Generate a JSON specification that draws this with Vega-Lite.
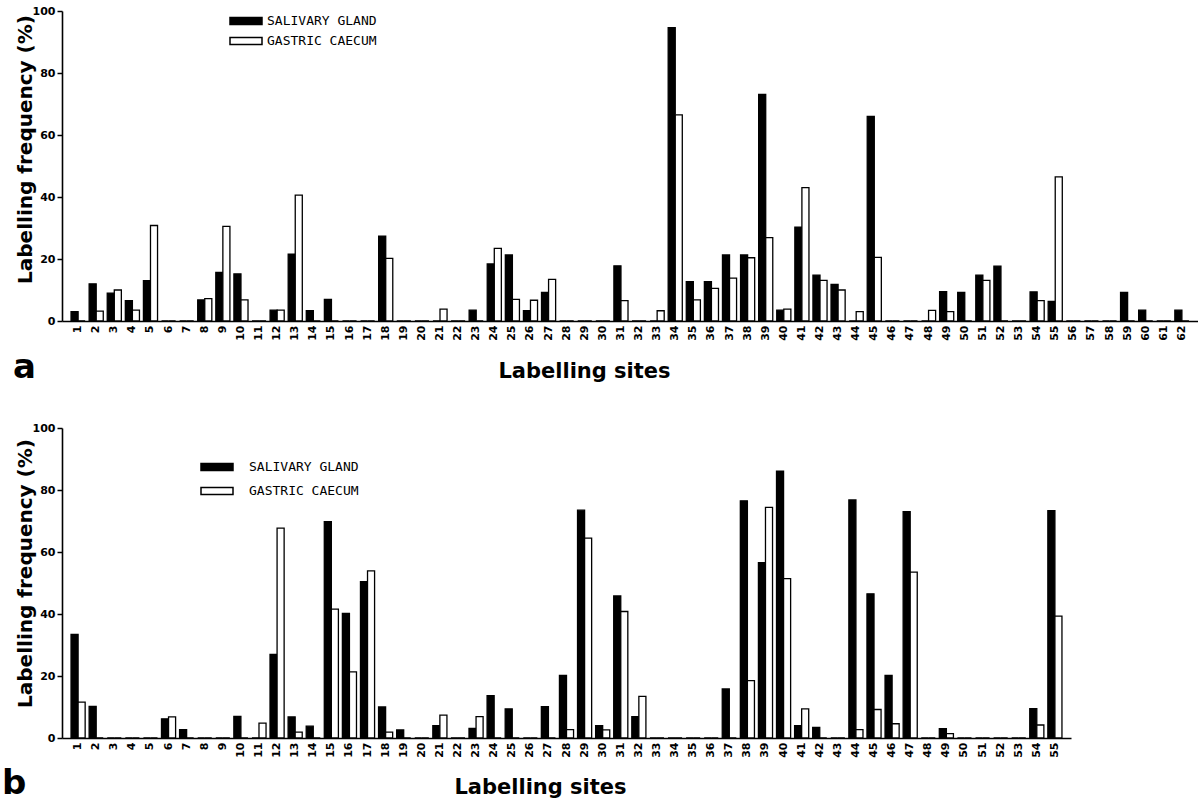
{
  "$schema": "https://vega.github.io/schema/vega-lite/v6.json",
  "autosize": {"type": "pad"},
  "padding": {"left": 2, "top": 5, "right": 0, "bottom": 0},
  "background": "white",
  "spacing": 107,
  "bounds": "flush",
  "config": {
    "view": {"stroke": null},
    "font": "DejaVu Sans",
    "axis": {"domainColor": "black", "domainWidth": 1.6, "tickColor": "black", "tickWidth": 1.5, "labelColor": "black", "titleColor": "black", "grid": false}
  },
  "resolve": {"scale": {"fill": "independent", "x": "independent", "y": "independent", "xOffset": "independent"}, "legend": {"fill": "independent"}},
  "datasets": {
    "a": [
      {"site":1,"tissue":"SALIVARY GLAND","freq":3},{"site":1,"tissue":"GASTRIC CAECUM","freq":0},
      {"site":2,"tissue":"SALIVARY GLAND","freq":12},{"site":2,"tissue":"GASTRIC CAECUM","freq":3.2},
      {"site":3,"tissue":"SALIVARY GLAND","freq":9},{"site":3,"tissue":"GASTRIC CAECUM","freq":10},
      {"site":4,"tissue":"SALIVARY GLAND","freq":6.6},{"site":4,"tissue":"GASTRIC CAECUM","freq":3.5},
      {"site":5,"tissue":"SALIVARY GLAND","freq":13},{"site":5,"tissue":"GASTRIC CAECUM","freq":30.8},
      {"site":6,"tissue":"SALIVARY GLAND","freq":0},{"site":6,"tissue":"GASTRIC CAECUM","freq":0},
      {"site":7,"tissue":"SALIVARY GLAND","freq":0},{"site":7,"tissue":"GASTRIC CAECUM","freq":0},
      {"site":8,"tissue":"SALIVARY GLAND","freq":6.8},{"site":8,"tissue":"GASTRIC CAECUM","freq":7.2},
      {"site":9,"tissue":"SALIVARY GLAND","freq":15.7},{"site":9,"tissue":"GASTRIC CAECUM","freq":30.5},
      {"site":10,"tissue":"SALIVARY GLAND","freq":15.2},{"site":10,"tissue":"GASTRIC CAECUM","freq":6.8},
      {"site":11,"tissue":"SALIVARY GLAND","freq":0},{"site":11,"tissue":"GASTRIC CAECUM","freq":0},
      {"site":12,"tissue":"SALIVARY GLAND","freq":3.5},{"site":12,"tissue":"GASTRIC CAECUM","freq":3.5},
      {"site":13,"tissue":"SALIVARY GLAND","freq":21.6},{"site":13,"tissue":"GASTRIC CAECUM","freq":40.6},
      {"site":14,"tissue":"SALIVARY GLAND","freq":3.3},{"site":14,"tissue":"GASTRIC CAECUM","freq":0},
      {"site":15,"tissue":"SALIVARY GLAND","freq":7},{"site":15,"tissue":"GASTRIC CAECUM","freq":0},
      {"site":16,"tissue":"SALIVARY GLAND","freq":0},{"site":16,"tissue":"GASTRIC CAECUM","freq":0},
      {"site":17,"tissue":"SALIVARY GLAND","freq":0},{"site":17,"tissue":"GASTRIC CAECUM","freq":0},
      {"site":18,"tissue":"SALIVARY GLAND","freq":27.4},{"site":18,"tissue":"GASTRIC CAECUM","freq":20.2},
      {"site":19,"tissue":"SALIVARY GLAND","freq":0},{"site":19,"tissue":"GASTRIC CAECUM","freq":0},
      {"site":20,"tissue":"SALIVARY GLAND","freq":0},{"site":20,"tissue":"GASTRIC CAECUM","freq":0},
      {"site":21,"tissue":"SALIVARY GLAND","freq":0},{"site":21,"tissue":"GASTRIC CAECUM","freq":3.8},
      {"site":22,"tissue":"SALIVARY GLAND","freq":0},{"site":22,"tissue":"GASTRIC CAECUM","freq":0},
      {"site":23,"tissue":"SALIVARY GLAND","freq":3.5},{"site":23,"tissue":"GASTRIC CAECUM","freq":0},
      {"site":24,"tissue":"SALIVARY GLAND","freq":18.4},{"site":24,"tissue":"GASTRIC CAECUM","freq":23.4},
      {"site":25,"tissue":"SALIVARY GLAND","freq":21.3},{"site":25,"tissue":"GASTRIC CAECUM","freq":7},
      {"site":26,"tissue":"SALIVARY GLAND","freq":3.3},{"site":26,"tissue":"GASTRIC CAECUM","freq":6.7},
      {"site":27,"tissue":"SALIVARY GLAND","freq":9.2},{"site":27,"tissue":"GASTRIC CAECUM","freq":13.4},
      {"site":28,"tissue":"SALIVARY GLAND","freq":0},{"site":28,"tissue":"GASTRIC CAECUM","freq":0},
      {"site":29,"tissue":"SALIVARY GLAND","freq":0},{"site":29,"tissue":"GASTRIC CAECUM","freq":0},
      {"site":30,"tissue":"SALIVARY GLAND","freq":0},{"site":30,"tissue":"GASTRIC CAECUM","freq":0},
      {"site":31,"tissue":"SALIVARY GLAND","freq":17.8},{"site":31,"tissue":"GASTRIC CAECUM","freq":6.6},
      {"site":32,"tissue":"SALIVARY GLAND","freq":0},{"site":32,"tissue":"GASTRIC CAECUM","freq":0},
      {"site":33,"tissue":"SALIVARY GLAND","freq":0},{"site":33,"tissue":"GASTRIC CAECUM","freq":3.3},
      {"site":34,"tissue":"SALIVARY GLAND","freq":94.6},{"site":34,"tissue":"GASTRIC CAECUM","freq":66.5},
      {"site":35,"tissue":"SALIVARY GLAND","freq":12.7},{"site":35,"tissue":"GASTRIC CAECUM","freq":6.8},
      {"site":36,"tissue":"SALIVARY GLAND","freq":12.7},{"site":36,"tissue":"GASTRIC CAECUM","freq":10.5},
      {"site":37,"tissue":"SALIVARY GLAND","freq":21.3},{"site":37,"tissue":"GASTRIC CAECUM","freq":13.8},
      {"site":38,"tissue":"SALIVARY GLAND","freq":21.3},{"site":38,"tissue":"GASTRIC CAECUM","freq":20.4},
      {"site":39,"tissue":"SALIVARY GLAND","freq":73.1},{"site":39,"tissue":"GASTRIC CAECUM","freq":26.9},
      {"site":40,"tissue":"SALIVARY GLAND","freq":3.5},{"site":40,"tissue":"GASTRIC CAECUM","freq":3.8},
      {"site":41,"tissue":"SALIVARY GLAND","freq":30.3},{"site":41,"tissue":"GASTRIC CAECUM","freq":43},
      {"site":42,"tissue":"SALIVARY GLAND","freq":14.8},{"site":42,"tissue":"GASTRIC CAECUM","freq":13.1},
      {"site":43,"tissue":"SALIVARY GLAND","freq":11.8},{"site":43,"tissue":"GASTRIC CAECUM","freq":10},
      {"site":44,"tissue":"SALIVARY GLAND","freq":0},{"site":44,"tissue":"GASTRIC CAECUM","freq":3},
      {"site":45,"tissue":"SALIVARY GLAND","freq":66},{"site":45,"tissue":"GASTRIC CAECUM","freq":20.5},
      {"site":46,"tissue":"SALIVARY GLAND","freq":0},{"site":46,"tissue":"GASTRIC CAECUM","freq":0},
      {"site":47,"tissue":"SALIVARY GLAND","freq":0},{"site":47,"tissue":"GASTRIC CAECUM","freq":0},
      {"site":48,"tissue":"SALIVARY GLAND","freq":0},{"site":48,"tissue":"GASTRIC CAECUM","freq":3.4},
      {"site":49,"tissue":"SALIVARY GLAND","freq":9.5},{"site":49,"tissue":"GASTRIC CAECUM","freq":3},
      {"site":50,"tissue":"SALIVARY GLAND","freq":9.2},{"site":50,"tissue":"GASTRIC CAECUM","freq":0},
      {"site":51,"tissue":"SALIVARY GLAND","freq":14.8},{"site":51,"tissue":"GASTRIC CAECUM","freq":13.1},
      {"site":52,"tissue":"SALIVARY GLAND","freq":17.7},{"site":52,"tissue":"GASTRIC CAECUM","freq":0},
      {"site":53,"tissue":"SALIVARY GLAND","freq":0},{"site":53,"tissue":"GASTRIC CAECUM","freq":0},
      {"site":54,"tissue":"SALIVARY GLAND","freq":9.4},{"site":54,"tissue":"GASTRIC CAECUM","freq":6.6},
      {"site":55,"tissue":"SALIVARY GLAND","freq":6.3},{"site":55,"tissue":"GASTRIC CAECUM","freq":46.5},
      {"site":56,"tissue":"SALIVARY GLAND","freq":0},{"site":56,"tissue":"GASTRIC CAECUM","freq":0},
      {"site":57,"tissue":"SALIVARY GLAND","freq":0},{"site":57,"tissue":"GASTRIC CAECUM","freq":0},
      {"site":58,"tissue":"SALIVARY GLAND","freq":0},{"site":58,"tissue":"GASTRIC CAECUM","freq":0},
      {"site":59,"tissue":"SALIVARY GLAND","freq":9.2},{"site":59,"tissue":"GASTRIC CAECUM","freq":0},
      {"site":60,"tissue":"SALIVARY GLAND","freq":3.5},{"site":60,"tissue":"GASTRIC CAECUM","freq":0},
      {"site":61,"tissue":"SALIVARY GLAND","freq":0},{"site":61,"tissue":"GASTRIC CAECUM","freq":0},
      {"site":62,"tissue":"SALIVARY GLAND","freq":3.5},{"site":62,"tissue":"GASTRIC CAECUM","freq":0}
    ],
    "b": [
      {"site":1,"tissue":"SALIVARY GLAND","freq":33.4},{"site":1,"tissue":"GASTRIC CAECUM","freq":11.6},
      {"site":2,"tissue":"SALIVARY GLAND","freq":10.2},{"site":2,"tissue":"GASTRIC CAECUM","freq":0},
      {"site":3,"tissue":"SALIVARY GLAND","freq":0},{"site":3,"tissue":"GASTRIC CAECUM","freq":0},
      {"site":4,"tissue":"SALIVARY GLAND","freq":0},{"site":4,"tissue":"GASTRIC CAECUM","freq":0},
      {"site":5,"tissue":"SALIVARY GLAND","freq":0},{"site":5,"tissue":"GASTRIC CAECUM","freq":0},
      {"site":6,"tissue":"SALIVARY GLAND","freq":6.2},{"site":6,"tissue":"GASTRIC CAECUM","freq":6.8},
      {"site":7,"tissue":"SALIVARY GLAND","freq":2.7},{"site":7,"tissue":"GASTRIC CAECUM","freq":0},
      {"site":8,"tissue":"SALIVARY GLAND","freq":0},{"site":8,"tissue":"GASTRIC CAECUM","freq":0},
      {"site":9,"tissue":"SALIVARY GLAND","freq":0},{"site":9,"tissue":"GASTRIC CAECUM","freq":0},
      {"site":10,"tissue":"SALIVARY GLAND","freq":7},{"site":10,"tissue":"GASTRIC CAECUM","freq":0},
      {"site":11,"tissue":"SALIVARY GLAND","freq":0},{"site":11,"tissue":"GASTRIC CAECUM","freq":4.8},
      {"site":12,"tissue":"SALIVARY GLAND","freq":27},{"site":12,"tissue":"GASTRIC CAECUM","freq":67.7},
      {"site":13,"tissue":"SALIVARY GLAND","freq":6.8},{"site":13,"tissue":"GASTRIC CAECUM","freq":1.9},
      {"site":14,"tissue":"SALIVARY GLAND","freq":3.8},{"site":14,"tissue":"GASTRIC CAECUM","freq":0},
      {"site":15,"tissue":"SALIVARY GLAND","freq":69.8},{"site":15,"tissue":"GASTRIC CAECUM","freq":41.6},
      {"site":16,"tissue":"SALIVARY GLAND","freq":40.2},{"site":16,"tissue":"GASTRIC CAECUM","freq":21.3},
      {"site":17,"tissue":"SALIVARY GLAND","freq":50.4},{"site":17,"tissue":"GASTRIC CAECUM","freq":53.9},
      {"site":18,"tissue":"SALIVARY GLAND","freq":10},{"site":18,"tissue":"GASTRIC CAECUM","freq":1.9},
      {"site":19,"tissue":"SALIVARY GLAND","freq":2.6},{"site":19,"tissue":"GASTRIC CAECUM","freq":0},
      {"site":20,"tissue":"SALIVARY GLAND","freq":0},{"site":20,"tissue":"GASTRIC CAECUM","freq":0},
      {"site":21,"tissue":"SALIVARY GLAND","freq":4},{"site":21,"tissue":"GASTRIC CAECUM","freq":7.4},
      {"site":22,"tissue":"SALIVARY GLAND","freq":0},{"site":22,"tissue":"GASTRIC CAECUM","freq":0},
      {"site":23,"tissue":"SALIVARY GLAND","freq":3.1},{"site":23,"tissue":"GASTRIC CAECUM","freq":6.9},
      {"site":24,"tissue":"SALIVARY GLAND","freq":13.7},{"site":24,"tissue":"GASTRIC CAECUM","freq":0},
      {"site":25,"tissue":"SALIVARY GLAND","freq":9.4},{"site":25,"tissue":"GASTRIC CAECUM","freq":0},
      {"site":26,"tissue":"SALIVARY GLAND","freq":0},{"site":26,"tissue":"GASTRIC CAECUM","freq":0},
      {"site":27,"tissue":"SALIVARY GLAND","freq":10.1},{"site":27,"tissue":"GASTRIC CAECUM","freq":0},
      {"site":28,"tissue":"SALIVARY GLAND","freq":20.2},{"site":28,"tissue":"GASTRIC CAECUM","freq":2.7},
      {"site":29,"tissue":"SALIVARY GLAND","freq":73.5},{"site":29,"tissue":"GASTRIC CAECUM","freq":64.5},
      {"site":30,"tissue":"SALIVARY GLAND","freq":4},{"site":30,"tissue":"GASTRIC CAECUM","freq":2.6},
      {"site":31,"tissue":"SALIVARY GLAND","freq":45.8},{"site":31,"tissue":"GASTRIC CAECUM","freq":40.8},
      {"site":32,"tissue":"SALIVARY GLAND","freq":6.9},{"site":32,"tissue":"GASTRIC CAECUM","freq":13.4},
      {"site":33,"tissue":"SALIVARY GLAND","freq":0},{"site":33,"tissue":"GASTRIC CAECUM","freq":0},
      {"site":34,"tissue":"SALIVARY GLAND","freq":0},{"site":34,"tissue":"GASTRIC CAECUM","freq":0},
      {"site":35,"tissue":"SALIVARY GLAND","freq":0},{"site":35,"tissue":"GASTRIC CAECUM","freq":0},
      {"site":36,"tissue":"SALIVARY GLAND","freq":0},{"site":36,"tissue":"GASTRIC CAECUM","freq":0},
      {"site":37,"tissue":"SALIVARY GLAND","freq":15.8},{"site":37,"tissue":"GASTRIC CAECUM","freq":0},
      {"site":38,"tissue":"SALIVARY GLAND","freq":76.5},{"site":38,"tissue":"GASTRIC CAECUM","freq":18.5},
      {"site":39,"tissue":"SALIVARY GLAND","freq":56.6},{"site":39,"tissue":"GASTRIC CAECUM","freq":74.4},
      {"site":40,"tissue":"SALIVARY GLAND","freq":86.1},{"site":40,"tissue":"GASTRIC CAECUM","freq":51.4},
      {"site":41,"tissue":"SALIVARY GLAND","freq":4},{"site":41,"tissue":"GASTRIC CAECUM","freq":9.4},
      {"site":42,"tissue":"SALIVARY GLAND","freq":3.4},{"site":42,"tissue":"GASTRIC CAECUM","freq":0},
      {"site":43,"tissue":"SALIVARY GLAND","freq":0},{"site":43,"tissue":"GASTRIC CAECUM","freq":0},
      {"site":44,"tissue":"SALIVARY GLAND","freq":76.8},{"site":44,"tissue":"GASTRIC CAECUM","freq":2.7},
      {"site":45,"tissue":"SALIVARY GLAND","freq":46.5},{"site":45,"tissue":"GASTRIC CAECUM","freq":9.2},
      {"site":46,"tissue":"SALIVARY GLAND","freq":20.2},{"site":46,"tissue":"GASTRIC CAECUM","freq":4.6},
      {"site":47,"tissue":"SALIVARY GLAND","freq":73},{"site":47,"tissue":"GASTRIC CAECUM","freq":53.5},
      {"site":48,"tissue":"SALIVARY GLAND","freq":0},{"site":48,"tissue":"GASTRIC CAECUM","freq":0},
      {"site":49,"tissue":"SALIVARY GLAND","freq":3},{"site":49,"tissue":"GASTRIC CAECUM","freq":1.4},
      {"site":50,"tissue":"SALIVARY GLAND","freq":0},{"site":50,"tissue":"GASTRIC CAECUM","freq":0},
      {"site":51,"tissue":"SALIVARY GLAND","freq":0},{"site":51,"tissue":"GASTRIC CAECUM","freq":0},
      {"site":52,"tissue":"SALIVARY GLAND","freq":0},{"site":52,"tissue":"GASTRIC CAECUM","freq":0},
      {"site":53,"tissue":"SALIVARY GLAND","freq":0},{"site":53,"tissue":"GASTRIC CAECUM","freq":0},
      {"site":54,"tissue":"SALIVARY GLAND","freq":9.5},{"site":54,"tissue":"GASTRIC CAECUM","freq":4.2},
      {"site":55,"tissue":"SALIVARY GLAND","freq":73.3},{"site":55,"tissue":"GASTRIC CAECUM","freq":39.3}
    ]
  },
  "vconcat": [
    {
      "data": {"name": "a"},
      "width": 1136,
      "height": 310,
      "title": {"text": "a", "orient": "bottom", "anchor": "start", "frame": "group", "fontSize": 34, "fontWeight": "bold", "color": "black", "dx": -49, "dy": -30, "offset": 0},
      "mark": {"type": "bar", "stroke": "black", "strokeWidth": 1.3},
      "encoding": {
        "x": {"field": "site", "type": "ordinal", "scale": {"paddingInner": 0.22, "paddingOuter": 0.5},
          "axis": {"title": "Labelling sites", "labelAngle": -90, "ticks": false, "labelFontSize": 11, "labelFontWeight": "bold", "labelPadding": 4,
            "titleFontSize": 21, "titleFontWeight": "bold", "titleX": 522, "titleY": 56, "titleBaseline": "alphabetic"}},
        "xOffset": {"field": "tissue", "scale": {"domain": ["SALIVARY GLAND", "GASTRIC CAECUM"]}},
        "y": {"field": "freq", "type": "quantitative", "scale": {"domain": [0, 100]},
          "axis": {"values": [0, 20, 40, 60, 80, 100], "title": "Labelling frequency (%)", "tickSize": 5, "labelFontSize": 11, "labelFontWeight": "bold", "labelPadding": 2,
            "titleFontSize": 20, "titleFontWeight": "bold", "titleX": -31, "titleY": 138, "titleBaseline": "alphabetic"}},
        "fill": {"field": "tissue", "type": "nominal", "scale": {"domain": ["SALIVARY GLAND", "GASTRIC CAECUM"], "range": ["black", "white"]},
          "legend": {"title": null, "orient": "none", "legendX": 175, "legendY": 1, "padding": 0, "symbolType": "M-2,-0.44H2V0.44H-2Z", "symbolSize": 256, "symbolStrokeColor": "black", "symbolStrokeWidth": 1.5, "symbolOpacity": 1, "labelFont": "DejaVu Sans Mono", "labelFontSize": 13, "labelColor": "black", "labelOffset": 12, "rowPadding": 4}}
      }
    },
    {
      "data": {"name": "b"},
      "width": 1009,
      "height": 310,
      "title": {"text": "b", "orient": "bottom", "anchor": "start", "frame": "group", "fontSize": 34, "fontWeight": "bold", "color": "black", "dx": -60, "dy": -30, "offset": 0},
      "mark": {"type": "bar", "stroke": "black", "strokeWidth": 1.3},
      "encoding": {
        "x": {"field": "site", "type": "ordinal", "scale": {"paddingInner": 0.22, "paddingOuter": 0.5},
          "axis": {"title": "Labelling sites", "labelAngle": -90, "ticks": false, "labelFontSize": 11, "labelFontWeight": "bold", "labelPadding": 4,
            "titleFontSize": 21, "titleFontWeight": "bold", "titleX": 478, "titleY": 55, "titleBaseline": "alphabetic"}},
        "xOffset": {"field": "tissue", "scale": {"domain": ["SALIVARY GLAND", "GASTRIC CAECUM"]}},
        "y": {"field": "freq", "type": "quantitative", "scale": {"domain": [0, 100]},
          "axis": {"values": [0, 20, 40, 60, 80, 100], "title": "Labelling frequency (%)", "tickSize": 5, "labelFontSize": 11, "labelFontWeight": "bold", "labelPadding": 2,
            "titleFontSize": 20, "titleFontWeight": "bold", "titleX": -31, "titleY": 145, "titleBaseline": "alphabetic"}},
        "fill": {"field": "tissue", "type": "nominal", "scale": {"domain": ["SALIVARY GLAND", "GASTRIC CAECUM"], "range": ["black", "white"]},
          "legend": {"title": null, "orient": "none", "legendX": 138, "legendY": 22, "padding": 0, "symbolType": "M-1,-0.22H1V0.22H-1Z", "symbolSize": 1024, "symbolStrokeColor": "black", "symbolStrokeWidth": 1.5, "symbolOpacity": 1, "labelFont": "DejaVu Sans Mono", "labelFontSize": 13, "labelColor": "black", "labelOffset": 15, "rowPadding": -8}}
      }
    }
  ]
}
